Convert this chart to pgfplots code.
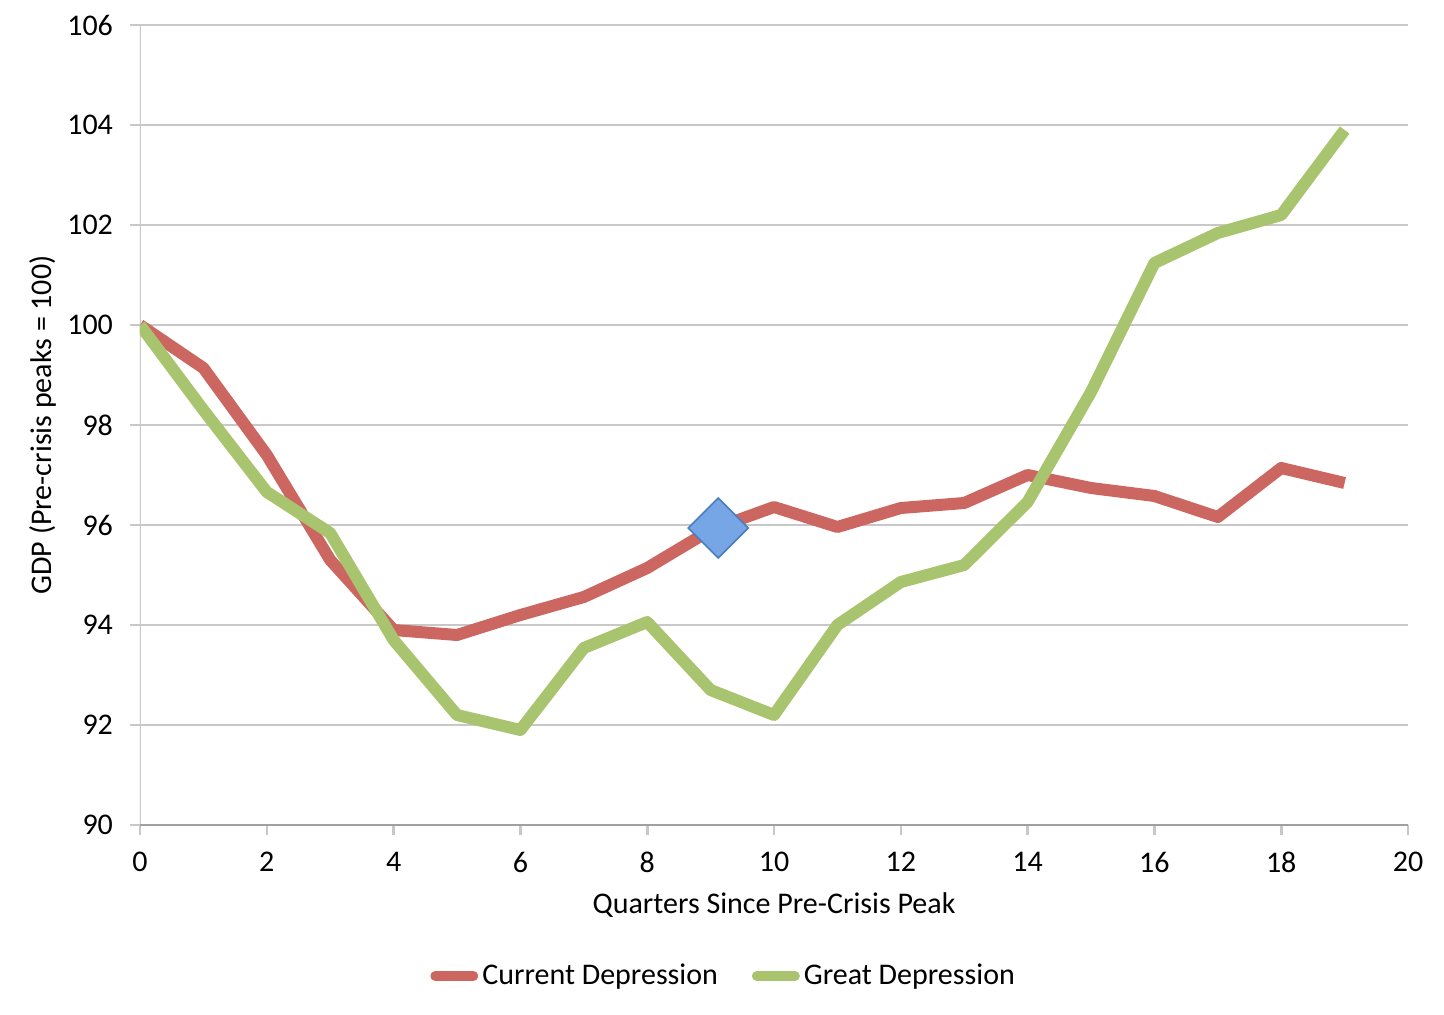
\documentclass[border=0pt]{standalone}
\usepackage{fontspec}
\setmainfont{Carlito}
\usepackage{pgfplots}
\pgfplotsset{compat=1.18}
\definecolor{cred}{RGB}{204,102,97}
\definecolor{cgreen}{RGB}{169,196,110}
\definecolor{cgrid}{RGB}{200,200,200}
\definecolor{caxis}{RGB}{160,160,160}
\definecolor{cblue}{RGB}{118,166,230}
\definecolor{cblueb}{RGB}{74,126,187}
\begin{document}
\begin{tikzpicture}
\path[use as bounding box] (-70pt,-94.5pt) rectangle (652pt,412.5pt);
\begin{axis}[
  scale only axis, width=634pt, height=400pt,
  xmin=0, xmax=20, ymin=90, ymax=106,
  xtick={0,2,...,20}, ytick={90,92,...,106},
  font=\fontsize{15}{18}\selectfont,
  /pgf/number format/assume math mode=true,
  axis line style={draw=none},
  ymajorgrids, grid style={cgrid, line width=1.3pt},
  tick style={cgrid, line width=1.3pt},
  tick align=outside, major tick length=5pt,
  xtick pos=bottom, ytick pos=left,
  xticklabel style={yshift=-5pt},
  yticklabel style={xshift=-5pt},
  xlabel={Quarters Since Pre-Crisis Peak},
  ylabel={GDP (Pre-crisis peaks = 100)},
  xlabel style={at={(axis description cs:0.5,0)}, anchor=center, yshift=-40pt},
  ylabel style={at={(axis description cs:-0.0765,0.5)}, anchor=center},
  legend style={draw=none, at={(axis description cs:0.461,0)}, anchor=center, yshift=-75.5pt,
    /tikz/every even column/.append style={column sep=15pt}, font=\fontsize{15}{18}\selectfont},
  legend columns=2,
  legend image code/.code={\draw[#1, line width=5pt, line cap=round] (0pt,0pt) -- (19pt,0pt);},
  legend cell align=left,
]
\draw[cgrid, line width=1.3pt] (axis cs:0,90) -- (axis cs:0,106);
\draw[caxis, line width=1.3pt] (axis cs:0,90) -- (axis cs:20,90);
\addplot[cred, line width=6pt, line join=round] coordinates {
(0,100) (1,99.14) (2,97.4) (3,95.3) (4,93.9) (5,93.8) (6,94.2) (7,94.56) (8,95.14) (9,95.9)
(10,96.36) (11,95.96) (12,96.34) (13,96.44) (14,97.0) (15,96.74) (16,96.58) (17,96.16) (18,97.14) (19,96.84)};
\addlegendentry{Current Depression}
\addplot[cgreen, line width=6pt, line join=round] coordinates {
(0,100) (1,98.3) (2,96.66) (3,95.84) (4,93.7) (5,92.2) (6,91.9) (7,93.54) (8,94.06) (9,92.7)
(10,92.2) (11,94.0) (12,94.86) (13,95.2) (14,96.46) (15,98.66) (16,101.24) (17,101.84) (18,102.2) (19,103.9)};
\addlegendentry{Great Depression}
\addplot[only marks, mark=square*, mark size=10.6pt, mark options={rotate=45, fill=cblue, draw=cblueb, line width=0.8pt}, forget plot] coordinates {(9.12,95.94)};
\end{axis}
\end{tikzpicture}
\end{document}
